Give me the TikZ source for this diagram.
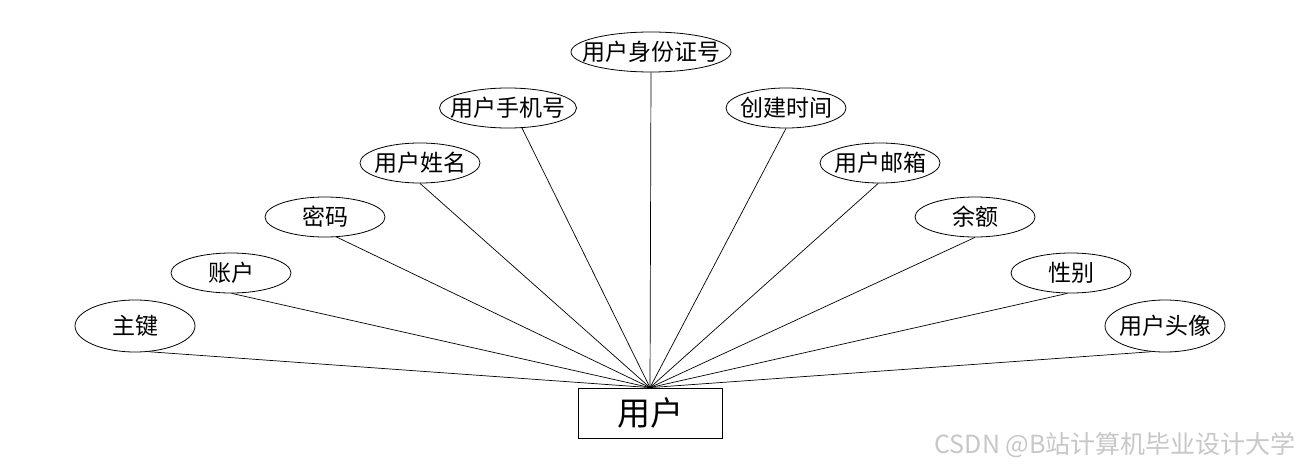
\documentclass[tikz,border=0pt]{standalone}
\usepackage{fontspec}
\setmainfont{Noto Sans CJK SC}
\usetikzlibrary{shapes.geometric}
\newcommand\zw[1]{\makebox[0pt]{#1}}
\begin{document}
\begin{tikzpicture}[x=1pt,y=-1pt,
  attr/.style={draw, ellipse, line width=0.8pt, inner sep=0pt, minimum width=120pt, minimum height=40pt, font=\fontsize{23}{26}\selectfont},
  tall/.style={minimum height=52pt},
  ent/.style={draw, rectangle, line width=0.8pt, inner sep=0pt, minimum width=144pt, minimum height=50pt, font=\fontsize{33}{36}\selectfont},
  conn/.style={line width=0.7pt},
  wm/.style={text=black!22, font=\fontsize{25}{28}\selectfont, inner sep=0pt, anchor=east}]
\useasboundingbox (0,0) rectangle (1300,468);
\node[ent] (user) at (650,413) {\zw{用户}};
\node[attr,tall] (zj) at (135,326) {\zw{主键}};
\node[attr] (zh) at (231,273) {\zw{账户}};
\node[attr] (mm) at (325,217) {\zw{密码}};
\node[attr] (xm) at (420,163) {\zw{用户姓名}};
\node[attr,minimum width=137pt] (sj) at (508,108) {\zw{用户手机号}};
\node[attr,minimum width=160pt] (sfz) at (651,52) {\zw{用户身份证号}};
\node[attr] (cj) at (786,108) {\zw{创建时间}};
\node[attr] (yx) at (880,163) {\zw{用户邮箱}};
\node[attr] (ye) at (975,217) {\zw{余额}};
\node[attr] (xb) at (1071,273) {\zw{性别}};
\node[attr,tall] (tx) at (1165,326) {\zw{用户头像}};
\draw[conn] (zj.-62) -- (user.north);
\draw[conn] (zh.-88) -- (user.north);
\draw[conn] (mm.-60) -- (user.north);
\draw[conn] (xm.south) -- (user.north);
\draw[conn] (sj.-55) -- (user.north);
\draw[conn] (sfz.south) -- (user.north);
\draw[conn] (cj.south) -- (user.north);
\draw[conn] (yx.-95) -- (user.north);
\draw[conn] (ye.south) -- (user.north);
\draw[conn] (xb.-100) -- (user.north);
\draw[conn] (tx.-118) -- (user.north);
\node[wm] (wmk) at (1296,445) {CSDN @B站计算机毕业设计大学};
\end{tikzpicture}
\end{document}
